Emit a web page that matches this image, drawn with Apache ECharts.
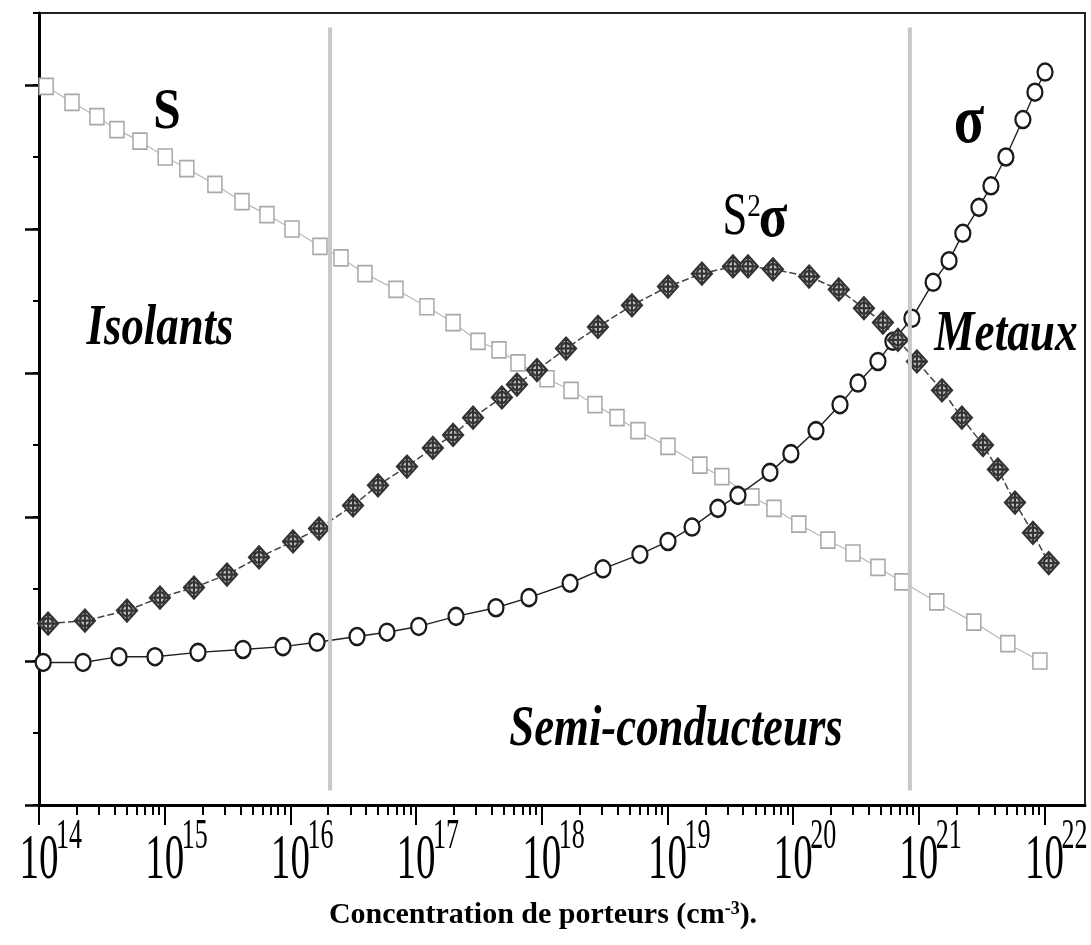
<!DOCTYPE html>
<html>
<head>
<meta charset="utf-8">
<script src="https://cdn.jsdelivr.net/npm/echarts@6/dist/echarts.min.js"></script>
<style>
html,body{margin:0;padding:0;background:#fff;}
#c{width:1091px;height:945px;}
</style>
</head>
<body>
<div id="c"></div>
<script>
// ---- Data ----
// Seebeck coefficient S (grey squares)
const sConc = [1.14e14,1.83e14,2.89e14,4.17e14,6.36e14,1.01e15,1.50e15,2.51e15,4.12e15,6.51e15,
  1.03e16,1.72e16,2.53e16,3.92e16,6.92e16,1.22e17,1.97e17,3.11e17,4.57e17,6.47e17,
  1.10e18,1.71e18,2.65e18,3.97e18,5.83e18,1.01e19,1.81e19,2.71e19,4.70e19,7.04e19,
  1.11e20,1.89e20,2.99e20,4.73e20,7.34e20,1.39e21,2.74e21,5.11e21,9.19e21];
const sVal = [4.99,4.88,4.78,4.69,4.61,4.50,4.42,4.31,4.19,4.10,
  4.00,3.88,3.80,3.69,3.58,3.46,3.35,3.22,3.16,3.07,
  2.96,2.88,2.78,2.69,2.60,2.49,2.36,2.28,2.14,2.06,
  1.95,1.84,1.75,1.65,1.55,1.41,1.27,1.12,1.00];

// Electrical conductivity sigma (open circles)
const sigmaConc = [1.08e14,2.24e14,4.33e14,8.37e14,1.84e15,4.20e15,8.73e15,1.63e16,3.39e16,5.87e16,
  1.05e17,2.08e17,4.32e17,7.91e17,1.68e18,3.07e18,6.04e18,1.01e19,1.57e19,2.52e19,
  3.64e19,6.54e19,9.60e19,1.52e20,2.36e20,3.28e20,4.73e20,6.22e20,8.81e20,1.30e21,
  1.74e21,2.24e21,3.01e21,3.75e21,4.93e21,6.73e21,8.39e21,1.01e22];
const sigmaVal = [0.99,0.99,1.03,1.03,1.06,1.08,1.10,1.13,1.17,1.20,
  1.24,1.31,1.37,1.44,1.54,1.64,1.74,1.83,1.93,2.06,
  2.15,2.31,2.44,2.60,2.78,2.93,3.08,3.22,3.38,3.63,
  3.78,3.97,4.15,4.30,4.50,4.76,4.95,5.09];

// Power factor S^2 sigma (crossed diamonds)
const pfConc = [1.18e14,2.32e14,5.01e14,9.17e14,1.71e15,3.13e15,5.63e15,1.05e16,1.69e16,3.15e16,
  4.98e16,8.47e16,1.36e17,1.97e17,2.84e17,4.82e17,6.35e17,9.16e17,1.56e18,2.80e18,
  5.22e18,1.01e19,1.88e19,3.32e19,4.37e19,6.91e19,1.34e20,2.31e20,3.66e20,5.18e20,
  6.82e20,9.66e20,1.53e21,2.20e21,3.24e21,4.26e21,5.82e21,8.09e21,1.08e22];
const pfVal = [1.26,1.28,1.35,1.44,1.51,1.60,1.72,1.83,1.92,2.08,
  2.22,2.35,2.48,2.57,2.69,2.83,2.92,3.02,3.17,3.32,
  3.47,3.60,3.69,3.74,3.74,3.72,3.67,3.58,3.45,3.35,
  3.23,3.08,2.88,2.69,2.50,2.33,2.10,1.89,1.68];

// Region boundaries (vertical grey lines)
const boundaryConc = [2.07e16, 8.49e20];
const boundaryY = [0.10, 5.40];

// Axis ticks / labels
const xTickValues = [1e14,1e15,1e16,1e17,1e18,1e19,1e20,1e21,1e22];
const xTickBase = '10';
const xTickExponents = ['14','15','16','17','18','19','20','21','22'];
const xMin = 1e14, xMax = 2.1e22;
const yMin = 0, yMax = 5.5;
const yMajorTicks = [0,1,2,3,4,5];

const xMinorTicks = [];
for (let k = 14; k < 22; k++) {
  for (let m = 2; m <= 9; m++) xMinorTicks.push(m * Math.pow(10, k));
}

// ---- Chart ----
const zip = (xs, ys) => xs.map((x, i) => [x, ys[i]]);
const FONT = 'Liberation Serif, Times New Roman, serif';
const diamondPath = 'path://M10 0 L20 10 L10 20 L0 10 Z M15 10 A5 5 0 1 1 5 10 A5 5 0 1 1 15 10 Z M10 1 L10 19 M1 10 L19 10';

const chart = echarts.init(document.getElementById('c'), null, {renderer: 'canvas'});

const option = {
  animation: false,
  backgroundColor: '#fff',
  grid: {
    left: 39, right: 6, top: 13, bottom: 140,
    show: true, borderColor: '#222', borderWidth: 2, backgroundColor: 'transparent'
  },
  xAxis: [{
    type: 'log', logBase: 10, min: xMin, max: xMax,
    name: 'Concentration de porteurs (cm{sup|-3}).',
    nameLocation: 'middle', nameGap: 95,
    nameTextStyle: {
      fontFamily: FONT, fontWeight: 'bold', fontSize: 30, color: '#000',
      padding: [0, 38, 0, 0],
      rich: { sup: { fontFamily: FONT, fontWeight: 'bold', fontSize: 18, color: '#000', verticalAlign: 'top', lineHeight: 18 } }
    },
    axisLine: { show: true, lineStyle: { color: '#000', width: 3 } },
    axisTick: { show: true, inside: false, length: 20, lineStyle: { color: '#000', width: 2 }, customValues: xTickValues },
    axisLabel: { show: false },
    splitLine: { show: false },
    minorTick: { show: false }
  }, {
    type: 'log', logBase: 10, min: xMin, max: xMax, position: 'bottom',
    axisLine: { show: false },
    axisTick: { show: true, inside: false, length: 10, lineStyle: { color: '#000', width: 2 }, customValues: xMinorTicks },
    axisLabel: { show: false },
    splitLine: { show: false }
  }],
  yAxis: [{
    type: 'value', min: yMin, max: yMax, interval: 0.5, position: 'left',
    axisLine: { show: true, lineStyle: { color: '#000', width: 3 } },
    axisTick: { show: true, inside: false, length: 6, lineStyle: { color: '#000', width: 2 } },
    axisLabel: { show: false },
    splitLine: { show: false }
  }, {
    type: 'value', min: yMin, max: yMax, interval: 1, position: 'left', offset: 0,
    axisLine: { show: false },
    axisTick: { show: true, inside: false, length: 14, lineStyle: { color: '#000', width: 2.5 }, customValues: yMajorTicks },
    axisLabel: { show: false },
    splitLine: { show: false }
  }],
  series: [{
    name: 'S', type: 'line', xAxisIndex: 0, yAxisIndex: 0,
    data: zip(sConc, sVal),
    symbol: 'rect', symbolSize: [14, 16],
    itemStyle: { color: '#fff', borderColor: '#a8a8a8', borderWidth: 1.6 },
    lineStyle: { color: '#b8b8b8', width: 1.2 },
    z: 2
  }, {
    name: 'σ', type: 'line', xAxisIndex: 0, yAxisIndex: 0,
    data: zip(sigmaConc, sigmaVal),
    symbol: 'circle', symbolSize: [15, 17],
    itemStyle: { color: '#fff', borderColor: '#1a1a1a', borderWidth: 2.4 },
    lineStyle: { color: '#222', width: 1.4 },
    z: 3
  }, {
    name: 'S²σ', type: 'line', xAxisIndex: 0, yAxisIndex: 0,
    data: zip(pfConc, pfVal),
    symbol: diamondPath, symbolSize: [20, 22],
    itemStyle: { color: 'rgba(190,190,190,0.9)', borderColor: '#333', borderWidth: 2.2 },
    lineStyle: { color: '#444', width: 1.5, type: [7, 3] },
    z: 4
  }].concat(boundaryConc.map(b => ({
    type: 'line', xAxisIndex: 0, yAxisIndex: 0,
    data: [[b, boundaryY[0]], [b, boundaryY[1]]],
    symbol: 'none', silent: true,
    lineStyle: { color: '#c8c8c8', width: 4 },
    z: 6
  })))
};

chart.setOption(option);

// ---- Text annotations & tick labels ----
function txt(x, y, text, size, opts) {
  opts = opts || {};
  return {
    type: 'text', x: x, y: y, scaleX: opts.scaleX || 1, z: 20,
    style: {
      text: text, fontFamily: FONT, fontSize: size,
      fontWeight: opts.weight || 'normal', fontStyle: opts.style || 'normal',
      fill: '#000',
      align: opts.align || 'center', textAlign: opts.align || 'center',
      verticalAlign: 'middle', textVerticalAlign: 'middle'
    }
  };
}

const graphics = [];
xTickValues.forEach((v, i) => {
  const px = chart.convertToPixel({ xAxisIndex: 0 }, v);
  graphics.push(txt(px, 861, xTickBase, 63, { scaleX: 0.62 }));
  graphics.push(txt(px + 17, 837, xTickExponents[i], 42, { scaleX: 0.62, align: 'left' }));
});

graphics.push(txt(167, 113, 'S', 58, { weight: 'bold', scaleX: 0.85 }));
graphics.push(txt(735, 218, 'S', 62, { scaleX: 0.72 }));
graphics.push(txt(754, 208, '2', 32, { scaleX: 0.85 }));
graphics.push(txt(773, 220, 'σ', 62, { weight: 'bold', scaleX: 0.85 }));
graphics.push(txt(969, 124, 'σ', 70, { weight: 'bold', scaleX: 0.8 }));
graphics.push(txt(160, 330, 'Isolants', 56, { weight: 'bold', style: 'italic', scaleX: 0.8 }));
graphics.push(txt(1006, 335, 'Metaux', 58, { weight: 'bold', style: 'italic', scaleX: 0.78 }));
graphics.push(txt(676, 731, 'Semi-conducteurs', 56, { weight: 'bold', style: 'italic', scaleX: 0.8 }));

chart.setOption({ graphic: { elements: graphics } });
</script>
</body>
</html>
